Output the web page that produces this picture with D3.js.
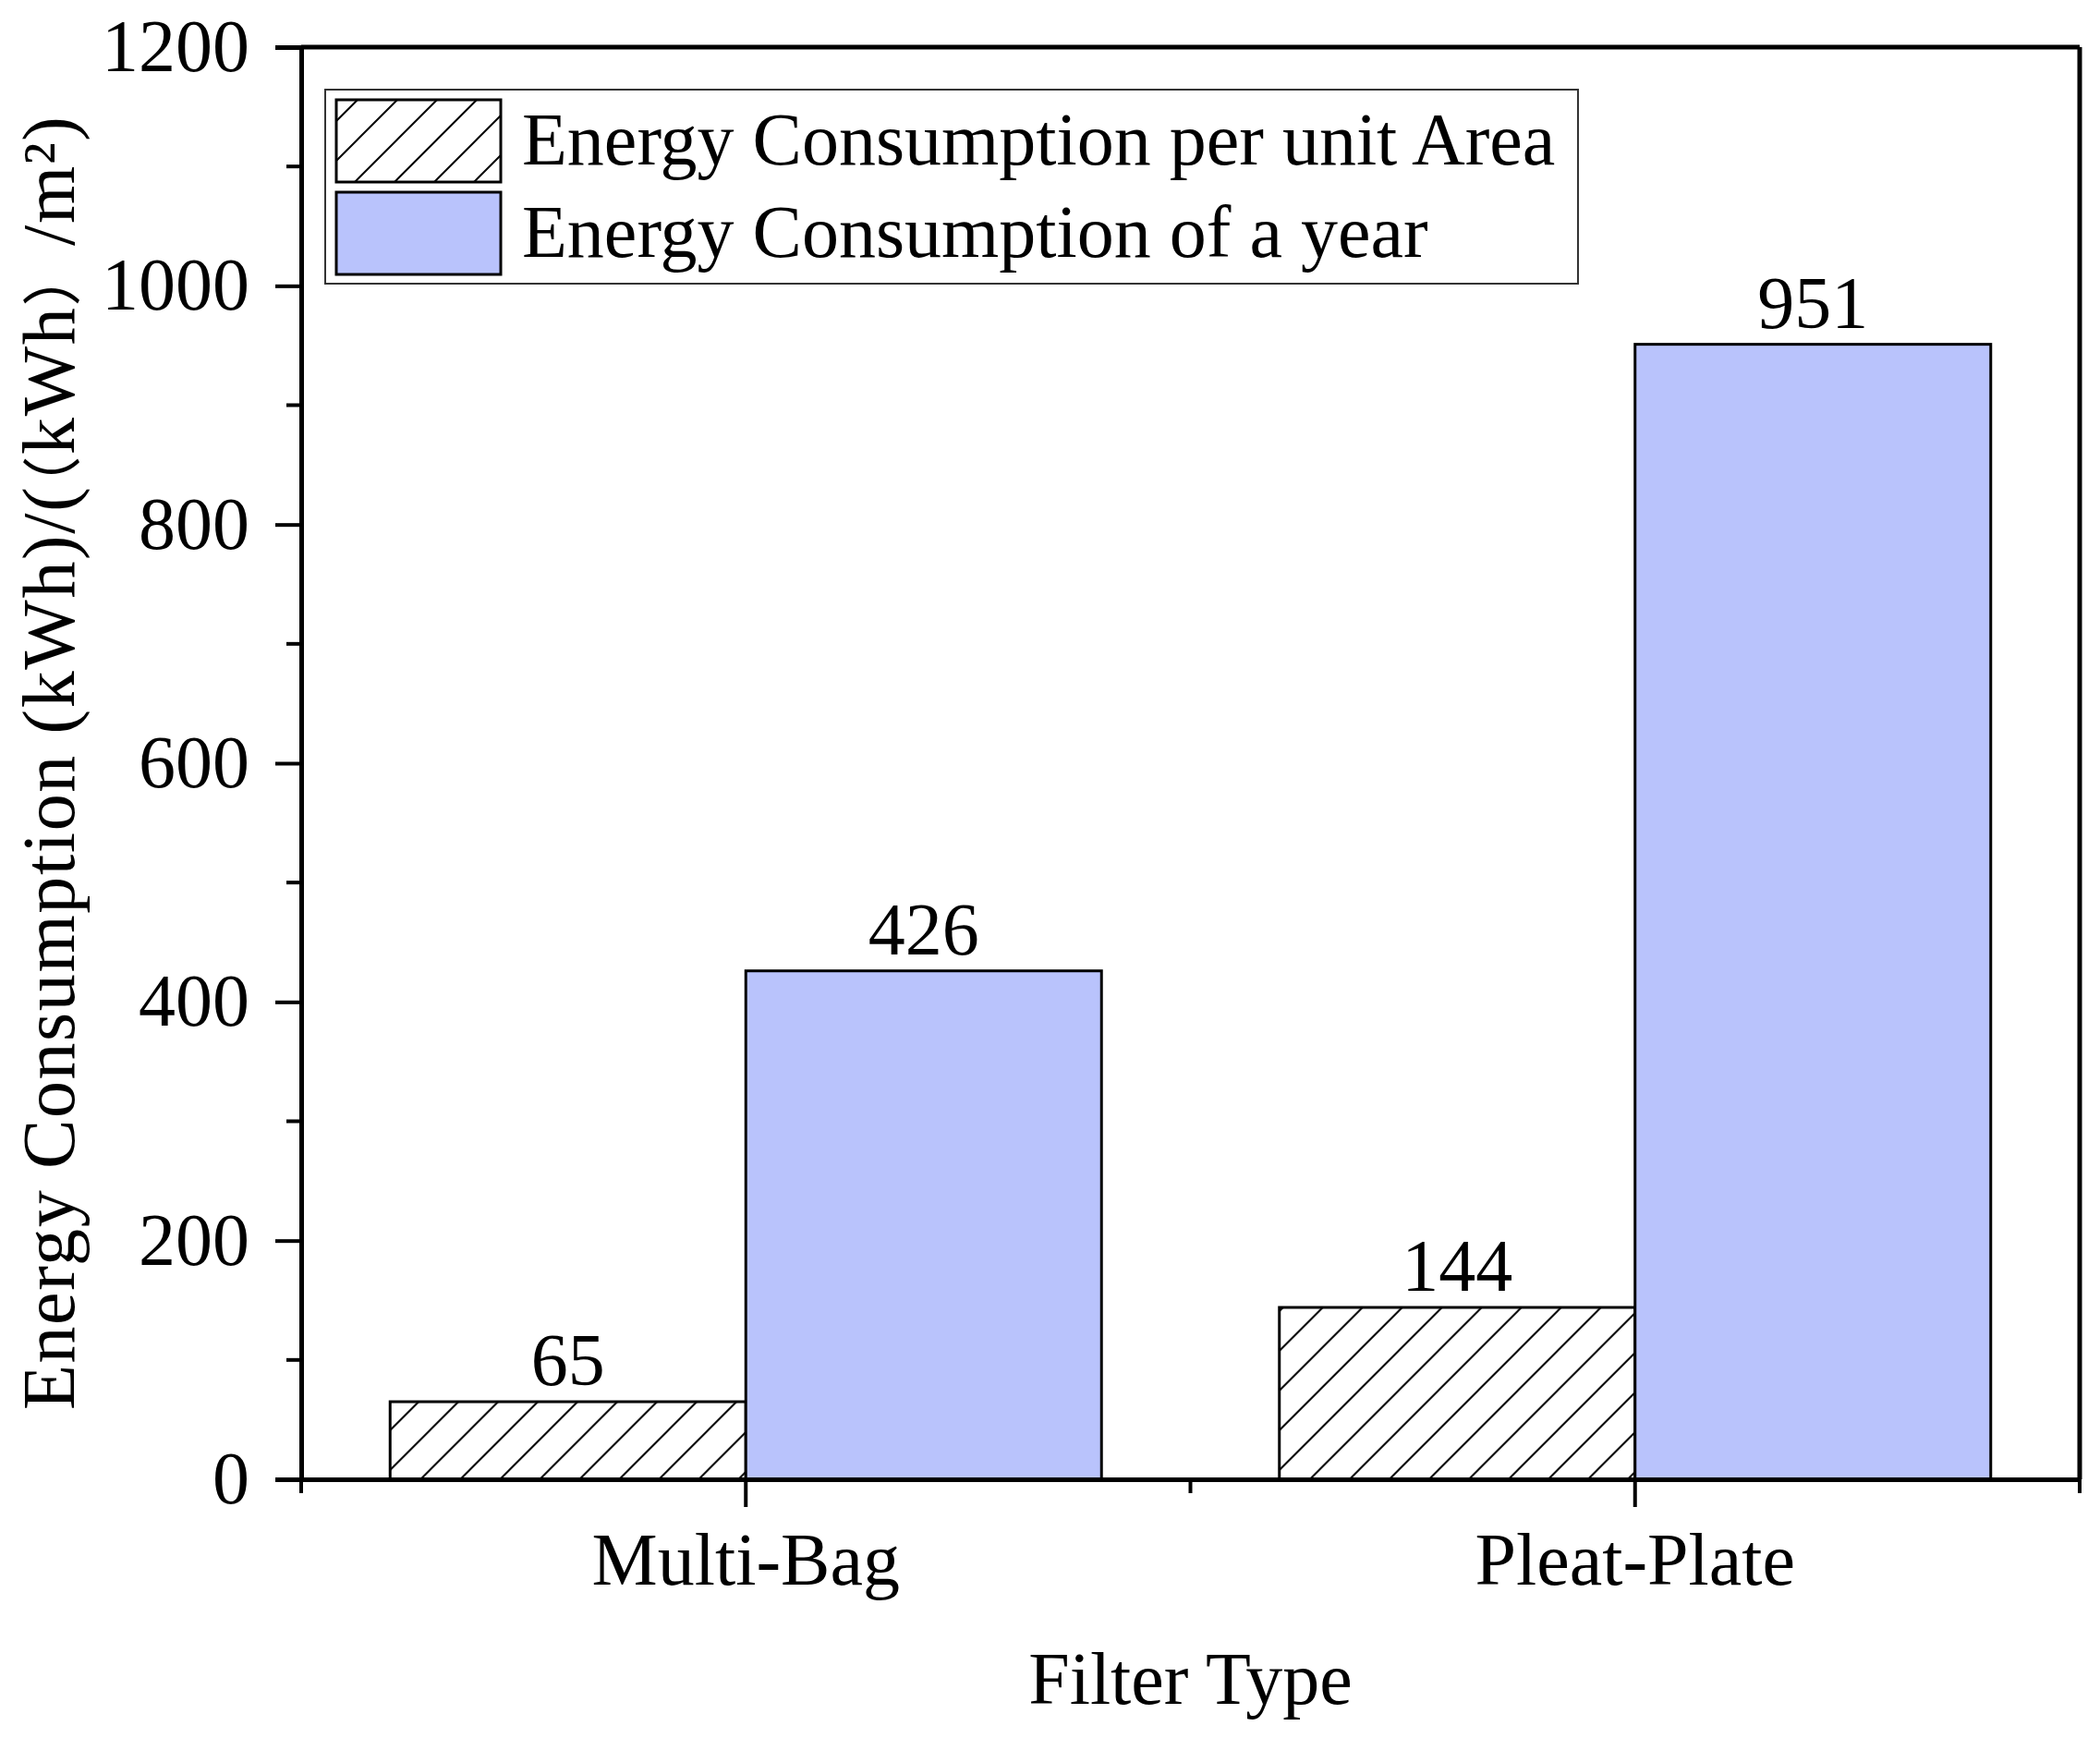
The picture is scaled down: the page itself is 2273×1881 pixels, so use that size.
<!DOCTYPE html>
<html>
<head>
<meta charset="utf-8">
<script src="https://cdn.jsdelivr.net/npm/d3@7"></script>
<style>
  body { margin: 0; background: #fff; }
  text { font-family: "Liberation Serif", "Times New Roman", serif; fill: #000; }
</style>
</head>
<body>
<div id="chart"></div>
<script>
// data
let categories = ['Multi-Bag', 'Pleat-Plate'];
let seriesNames = ['Energy Consumption per unit Area', 'Energy Consumption of a year'];
let areaValues = [65, 144];
let yearValues = [426, 951];
let yTicks = [0, 200, 400, 600, 800, 1000, 1200];

let width = 2273;
let height = 1881;
let plotLeft = 326, plotRight = 2251, plotTop = 51, plotBottom = 1601;
let blue = '#b9c3fc';
let fontSize = 80;

let svg = d3.select('#chart').append('svg')
  .attr('width', width).attr('height', height);

// hatch pattern for the per unit area bars
let defs = svg.append('defs');
let hatch = defs.append('pattern')
  .attr('id', 'hatch')
  .attr('patternUnits', 'userSpaceOnUse')
  .attr('width', 43).attr('height', 43);
hatch.append('path')
  .attr('d', 'M0,43 L43,0 M-10,10 L10,-10 M33,53 L53,33')
  .attr('stroke', '#000').attr('stroke-width', 2);

let x0 = d3.scaleBand().domain(categories).range([plotLeft, plotRight])
  .paddingInner(0.2).paddingOuter(0.1);
let x1 = d3.scaleBand().domain([0, 1]).range([0, x0.bandwidth()]);
let y = d3.scaleLinear().domain([0, 1200]).range([plotBottom, plotTop]);

// bars
let rows = categories.map((c, i) => ({cat: c, vals: [areaValues[i], yearValues[i]]}));
let groups = svg.append('g').selectAll('g').data(rows).enter().append('g')
  .attr('transform', d => 'translate(' + x0(d.cat) + ',0)');

groups.selectAll('rect').data(d => d.vals).enter().append('rect')
  .attr('x', (d, i) => x1(i))
  .attr('y', d => y(d))
  .attr('width', x1.bandwidth())
  .attr('height', d => y(0) - y(d))
  .attr('fill', (d, i) => i === 0 ? 'url(#hatch)' : blue)
  .attr('stroke', '#000').attr('stroke-width', 3);

groups.selectAll('text.val').data(d => d.vals).enter().append('text')
  .attr('class', 'val')
  .attr('x', (d, i) => x1(i) + x1.bandwidth() / 2)
  .attr('y', d => y(d) - 18)
  .attr('text-anchor', 'middle')
  .style('font-size', fontSize + 'px')
  .text(d => d);

// frame (top and right)
svg.append('line').attr('x1', plotLeft).attr('x2', plotRight).attr('y1', plotTop).attr('y2', plotTop)
  .attr('stroke', '#000').attr('stroke-width', 5);
svg.append('line').attr('x1', plotRight).attr('x2', plotRight).attr('y1', plotTop).attr('y2', plotBottom)
  .attr('stroke', '#000').attr('stroke-width', 5);

// y axis
let yAxis = svg.append('g').attr('transform', 'translate(' + plotLeft + ',0)')
  .call(d3.axisLeft(y).tickValues(yTicks).tickSize(28).tickPadding(28).tickFormat(d3.format('d')));
yAxis.attr('font-family', null);
yAxis.select('.domain').attr('stroke-width', 5);
yAxis.selectAll('.tick line').attr('stroke-width', 4);
yAxis.selectAll('.tick text').style('font-size', fontSize + 'px');

let yMinor = d3.range(100, 1200, 200);
svg.append('g').selectAll('line').data(yMinor).enter().append('line')
  .attr('x1', plotLeft - 16).attr('x2', plotLeft)
  .attr('y1', d => y(d)).attr('y2', d => y(d))
  .attr('stroke', '#000').attr('stroke-width', 4);

// x axis
let xAxis = svg.append('g').attr('transform', 'translate(0,' + plotBottom + ')')
  .call(d3.axisBottom(x0).tickSizeInner(30).tickSizeOuter(0).tickPadding(60));
xAxis.attr('font-family', null);
xAxis.select('.domain').attr('stroke-width', 5);
xAxis.selectAll('.tick line').attr('stroke-width', 4);
xAxis.selectAll('.tick text').style('font-size', fontSize + 'px')
  .attr('dy', null).attr('y', 114);

// minor x ticks at the range ends and between the groups
let xMinor = [plotLeft, (x0(categories[0]) + x0.bandwidth() + x0(categories[1])) / 2, plotRight];
svg.append('g').selectAll('line').data(xMinor).enter().append('line')
  .attr('x1', d => d).attr('x2', d => d)
  .attr('y1', plotBottom).attr('y2', plotBottom + 15)
  .attr('stroke', '#000').attr('stroke-width', 4);

// axis titles
svg.append('text')
  .attr('x', (plotLeft + plotRight) / 2).attr('y', 1844)
  .attr('text-anchor', 'middle')
  .style('font-size', fontSize + 'px')
  .text('Filter Type');

let yTitle = svg.append('text')
  .attr('transform', 'translate(80,' + ((plotTop + plotBottom) / 2) + ') rotate(-90)')
  .attr('text-anchor', 'middle')
  .attr('textLength', 1400)
  .style('font-size', fontSize + 'px');
yTitle.append('tspan').text('Energy Consumption (kWh)/(');
yTitle.append('tspan').style('font-family', '"Noto Sans CJK SC"').style('font-size', '64px').text('（');
yTitle.append('tspan').text('kWh');
yTitle.append('tspan').style('font-family', '"Noto Sans CJK SC"').style('font-size', '64px').text('）');
yTitle.append('tspan').text('/m²)');

// legend
let legend = svg.append('g');
legend.append('rect')
  .attr('x', 352).attr('y', 97).attr('width', 1356).attr('height', 210)
  .attr('fill', '#fff').attr('stroke', '#333').attr('stroke-width', 2);

let legendRows = legend.selectAll('g').data(seriesNames).enter().append('g')
  .attr('transform', (d, i) => 'translate(0,' + (108 + i * 100) + ')');
legendRows.append('rect')
  .attr('x', 364).attr('y', 0).attr('width', 178).attr('height', 89)
  .attr('fill', (d, i) => i === 0 ? 'url(#hatch)' : blue)
  .attr('stroke', '#000').attr('stroke-width', 3);
legendRows.append('text')
  .attr('x', 565).attr('y', 70)
  .style('font-size', fontSize + 'px')
  .text(d => d);
</script>
</body>
</html>
